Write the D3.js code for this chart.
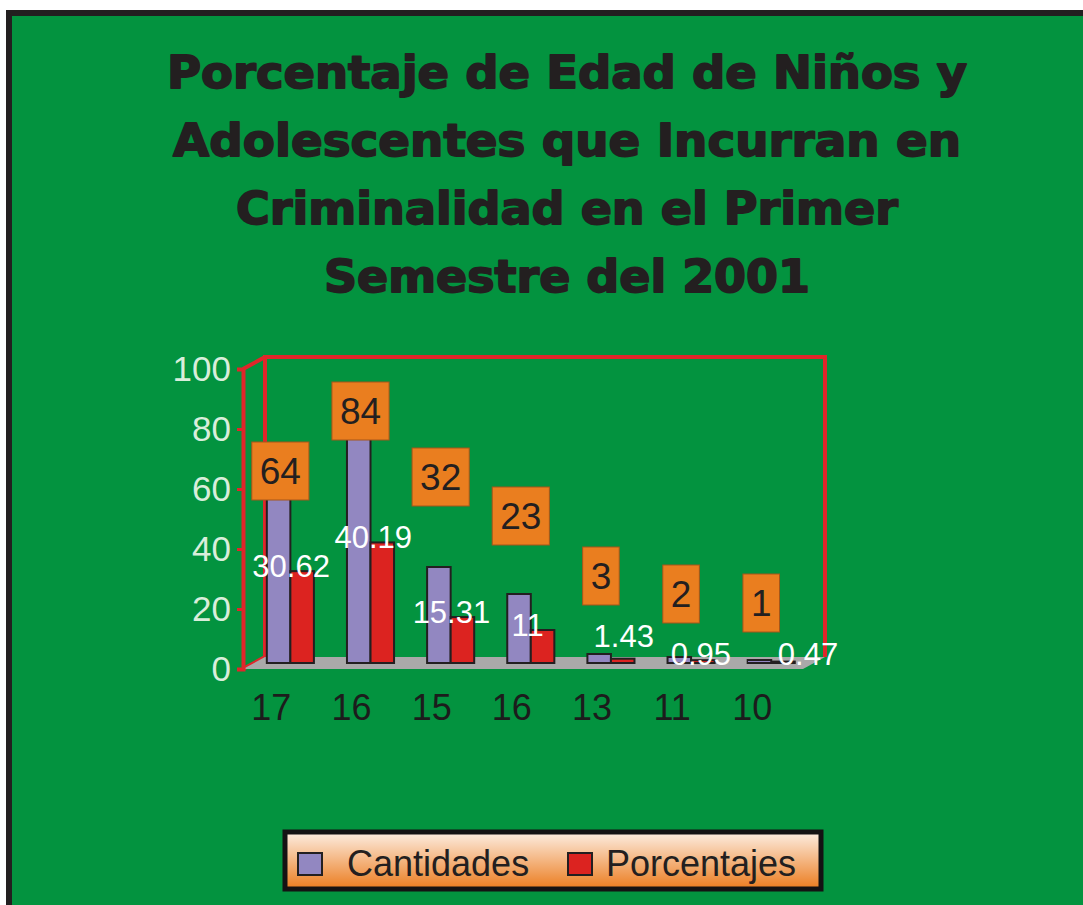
<!DOCTYPE html>
<html>
<head>
<meta charset="utf-8">
<script src="https://d3js.org/d3.v7.min.js"></script>
<style>
  body { margin: 0; background: #fff; }
  svg { display: block; }
</style>
</head>
<body>
<svg id="chart" width="1083" height="905"></svg>
<script>
// data
var categories = ["17", "16", "15", "16", "13", "11", "10"];
var cantidades = [64, 84, 32, 23, 3, 2, 1];
var porcentajes = [30.62, 40.19, 15.31, 11, 1.43, 0.95, 0.47];
var yTicks = [0, 20, 40, 60, 80, 100];
var seriesNames = ["Cantidades", "Porcentajes"];
var titleLines = ["Porcentaje de Edad de Niños y", "Adolescentes que Incurran en",
                  "Criminalidad en el Primer", "Semestre del 2001"];

var svg = d3.select("#chart");
var green = "#03933f", purple = "#9287c1", red = "#dc2320", frameRed = "#e0262a";
var ink = "#231f20";
var labelFont = "'Liberation Sans', Arial, sans-serif";

// background + black frame (right/bottom run off the page)
svg.append("rect").attr("x", 9).attr("y", 13).attr("width", 1100).attr("height", 920)
  .attr("fill", green).attr("stroke", ink).attr("stroke-width", 6);

// title (heavy face faked with a stroke, no Arial Black here)
var titleW = [800, 788, 662, 486];
svg.append("g").selectAll("text").data(titleLines).enter().append("text")
  .attr("x", 567).attr("y", function(d, i) { return 88 + i * 68; })
  .attr("text-anchor", "middle")
  .attr("textLength", function(d, i) { return titleW[i]; })
  .attr("lengthAdjust", "spacingAndGlyphs")
  .style("font-family", "'DejaVu Sans', sans-serif").style("font-weight", "bold")
  .style("font-size", "45px").attr("fill", ink)
  .attr("stroke", ink).attr("stroke-width", 1.8).attr("stroke-linejoin", "round")
  .text(function(d) { return d; });

// scales (mid plane of the 3D box), front / back planes are shifted copies
var dx = 11, dy = 6;
var x = d3.scaleBand().domain(d3.range(categories.length)).range([254, 814])
  .paddingInner(0.4125).paddingOuter(0.2).align(0.4);
var y = d3.scaleLinear().domain([0, 100]).range([663, 363]);
var sub = d3.scaleBand().domain([0, 1]).range([0, x.bandwidth()]);
var x0 = x.range()[0], x1 = x.range()[1];

// back wall frame
var back = svg.append("g").attr("transform", "translate(" + dx + "," + (-dy) + ")");
back.append("path")
  .attr("d", "M" + x0 + "," + y(0) + "V" + y(100) + "H" + x1 + "V" + y(0))
  .attr("fill", "none").attr("stroke", frameRed).attr("stroke-width", 4);

// side wall edges
var side = svg.append("g");
[0, 100].forEach(function(v) {
  side.append("line")
    .attr("x1", x0 - dx).attr("y1", y(v) + dy)
    .attr("x2", x0 + dx).attr("y2", y(v) - dy)
    .attr("stroke", frameRed).attr("stroke-width", 4);
});

// floor
svg.append("polygon")
  .attr("points", [[x0 - dx, y(0) + dy], [x1 - dx, y(0) + dy], [x1 + dx, y(0) - dy], [x0 + dx, y(0) - dy]].join(" "))
  .attr("fill", "#a9a9a9");

// bars
var series = [cantidades, porcentajes];
var colors = [purple, red];
var bars = svg.append("g");
series.forEach(function(vals, s) {
  bars.selectAll(".b" + s).data(vals).enter().append("rect")
    .attr("x", function(d, i) { return x(i) + sub(s); })
    .attr("y", function(d) { return y(d); })
    .attr("width", sub.bandwidth())
    .attr("height", function(d) { return y(0) - y(d); })
    .attr("fill", colors[s]).attr("stroke", ink).attr("stroke-width", 2);
});

// front plane: y axis and data labels
var front = svg.append("g").attr("transform", "translate(" + (-dx) + "," + dy + ")");
var yAxis = front.append("g").attr("transform", "translate(" + x0 + ",0)")
  .call(d3.axisLeft(y).tickValues(yTicks).tickSize(6).tickPadding(6));
yAxis.select(".domain").attr("stroke", frameRed).attr("stroke-width", 4);
yAxis.selectAll(".tick line").attr("stroke", frameRed).attr("stroke-width", 3);
yAxis.selectAll(".tick text").attr("fill", "#d9eedb")
  .style("font-family", labelFont).style("font-size", "35px");

// x axis labels
var xAxis = svg.append("g").attr("transform", "translate(" + (-dx - 8) + "," + (y(0) + 31) + ")")
  .call(d3.axisBottom(x).tickSize(0).tickPadding(0).tickFormat(function(i) { return categories[i]; }));
xAxis.select(".domain").remove();
xAxis.selectAll(".tick text").attr("fill", "#1c1c1c").attr("dy", "0.71em")
  .style("font-family", labelFont).style("font-size", "36px");

// Porcentajes labels: white text at front plane
var pctNudgeX = [0, 2, 0, -4, 12, 9, 36];
var pctNudgeY = [0, 0, 0, 0, -18, -1, -3];
front.append("g").selectAll("text").data(porcentajes).enter().append("text")
  .attr("x", function(d, i) { return x(i) + sub(1) + sub.bandwidth() / 2 + pctNudgeX[i]; })
  .attr("y", function(d, i) { return y(d) + pctNudgeY[i]; })
  .attr("text-anchor", "middle").attr("fill", "#ffffff")
  .style("font-family", labelFont).style("font-size", "31px")
  .text(function(d) { return d; });

// Cantidades labels: orange boxes (lift in value units, as Excel placed them)
var cantLift = [0, 0, 30, 26, 26, 21, 19];
var labels = front.append("g");
cantidades.forEach(function(v, i) {
  var cx = x(i) + x.bandwidth() / 2 + dx - 10;
  var cy = y(v + cantLift[i]) - dy;
  var g = labels.append("g");
  var t = g.append("text").attr("x", cx).attr("y", cy).attr("text-anchor", "middle")
    .attr("dy", "0.36em").attr("fill", ink)
    .style("font-family", labelFont).style("font-size", "37px")
    .text(v);
  var w = t.node().getComputedTextLength() + 16;
  g.insert("rect", "text").attr("x", cx - w / 2).attr("y", cy - 29)
    .attr("width", w).attr("height", 58)
    .attr("fill", "#ea7e1f").attr("stroke", "#a6561a").attr("stroke-width", 1);
});

// legend
var defs = svg.append("defs");
var grad = defs.append("linearGradient").attr("id", "lg").attr("x1", 0).attr("y1", 0).attr("x2", 0).attr("y2", 1);
grad.append("stop").attr("offset", "0%").attr("stop-color", "#fdeee2");
grad.append("stop").attr("offset", "100%").attr("stop-color", "#eb7c1f");
var legend = svg.append("g");
legend.append("rect").attr("x", 285).attr("y", 832).attr("width", 536).attr("height", 57)
  .attr("fill", "url(#lg)").attr("stroke", "#141213").attr("stroke-width", 5);
var legX = [298, 568];
seriesNames.forEach(function(n, s) {
  legend.append("rect").attr("x", legX[s]).attr("y", 853).attr("width", 24).attr("height", 22)
    .attr("fill", colors[s]).attr("stroke", ink).attr("stroke-width", 2);
  legend.append("text").attr("x", legX[s] + (s === 0 ? 49 : 38)).attr("y", 876)
    .attr("fill", ink)
    .style("font-family", labelFont).style("font-size", "36px")
    .text(n);
});
</script>
</body>
</html>
